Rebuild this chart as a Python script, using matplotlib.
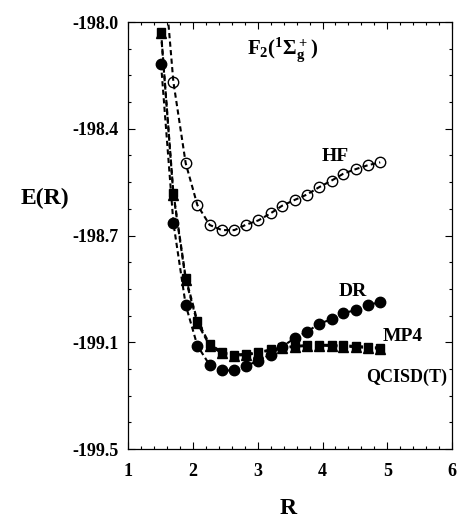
import matplotlib
matplotlib.use("Agg")
import matplotlib.pyplot as plt
from matplotlib.ticker import FixedLocator, AutoMinorLocator

# ---- data ----
R = [1.51, 1.70, 1.89, 2.07, 2.26, 2.45, 2.64, 2.82, 3.01, 3.20,
     3.38, 3.57, 3.76, 3.95, 4.14, 4.32, 4.51, 4.70, 4.89]
E_HF = [-197.700, -198.210, -198.496, -198.643, -198.713, -198.731, -198.731,
        -198.712, -198.697, -198.672, -198.645, -198.625, -198.606, -198.580,
        -198.557, -198.533, -198.517, -198.503, -198.493]
E_DR = [-198.148, -198.705, -198.994, -199.137, -199.205, -199.224, -199.224,
        -199.208, -199.190, -199.168, -199.140, -199.111, -199.088, -199.060,
        -199.044, -199.023, -199.012, -198.994, -198.984]
E_MP4 = [-198.034, -198.600, -198.898, -199.050, -199.131, -199.159, -199.168,
         -199.166, -199.160, -199.150, -199.143, -199.138, -199.135, -199.134,
         -199.134, -199.136, -199.138, -199.141, -199.144]
E_QCI = [-198.040, -198.606, -198.905, -199.058, -199.137, -199.164, -199.172,
         -199.170, -199.163, -199.153, -199.146, -199.141, -199.138, -199.137,
         -199.138, -199.140, -199.142, -199.145, -199.148]

yticks = [-198.0, -198.375, -198.75, -199.125, -199.5]
ytick_labels = ["-198.0", "-198.4", "-198.7", "-199.1", "-199.5"]
xticks = [1, 2, 3, 4, 5, 6]

plt.rcParams['font.family'] = ['Liberation Serif', 'DejaVu Serif']
plt.rcParams['font.weight'] = 'bold'
plt.rcParams['mathtext.fontset'] = 'custom'
plt.rcParams['mathtext.rm'] = 'Liberation Serif:bold'
plt.rcParams['mathtext.it'] = 'Liberation Serif:bold'
plt.rcParams['mathtext.bf'] = 'Liberation Serif:bold'

fig = plt.figure(figsize=(4.74, 5.28), dpi=100)
ax = fig.add_axes([0.270, 0.1496, 0.684, 0.8087])

ls = (0, (2.5, 1.6))
lw = 1.5
ax.plot(R, E_HF, linestyle=ls, color='black', lw=lw, marker='o', ms=7.5,
        mfc='none', mec='black', mew=1.0)
ax.plot(R, E_DR, linestyle=ls, color='black', lw=lw, marker='o', ms=7.5,
        mfc='black', mec='black')
ax.plot(R, E_MP4, linestyle=ls, color='black', lw=lw, marker='s', ms=6.0,
        mfc='black', mec='black')
ax.plot(R, E_QCI, linestyle=ls, color='black', lw=lw, marker='^', ms=7.0,
        mfc='black', mec='black')

ax.set_xlim(1, 6)
ax.set_ylim(-199.5, -198.0)
ax.xaxis.set_major_locator(FixedLocator(xticks))
ax.xaxis.set_minor_locator(AutoMinorLocator(5))
ax.yaxis.set_major_locator(FixedLocator(yticks))
ax.yaxis.set_minor_locator(AutoMinorLocator(4))
ax.set_yticklabels(ytick_labels)
ax.set_xticklabels([str(t) for t in xticks])

ax.tick_params(which='both', direction='in', top=True, right=True, width=0.8)
ax.tick_params(which='major', length=5)
ax.tick_params(which='minor', length=2.5)
ax.tick_params(axis='y', which='major', labelsize=13, pad=7)
ax.tick_params(axis='x', which='major', labelsize=13, pad=10)
for lab in ax.get_xticklabels() + ax.get_yticklabels():
    lab.set_fontweight('bold')
for sp in ax.spines.values():
    sp.set_linewidth(0.9)

ax.set_ylabel("E(R)", rotation=0, fontsize=17, fontweight='bold')
ax.yaxis.set_label_coords(-0.256, 0.562)
ax.set_xlabel("R", fontsize=17, fontweight='bold')
ax.xaxis.set_label_coords(0.494, -0.115)

ax.text(3.38, -198.098, r'$\mathrm{F_2(^1\Sigma_g^+)}$', fontsize=15,
        ha='center', va='center')
ax.text(4.19, -198.474, "HF", fontsize=14, fontweight='bold', ha='center', va='center')
ax.text(4.46, -198.948, "DR", fontsize=14, fontweight='bold', ha='center', va='center')
ax.text(5.23, -199.106, "MP4", fontsize=14, fontweight='bold', ha='center', va='center')
ax.text(5.29, -199.247, "QCISD(T)", fontsize=13, fontweight='bold', ha='center', va='center')

fig.savefig("out.png", dpi=100)
